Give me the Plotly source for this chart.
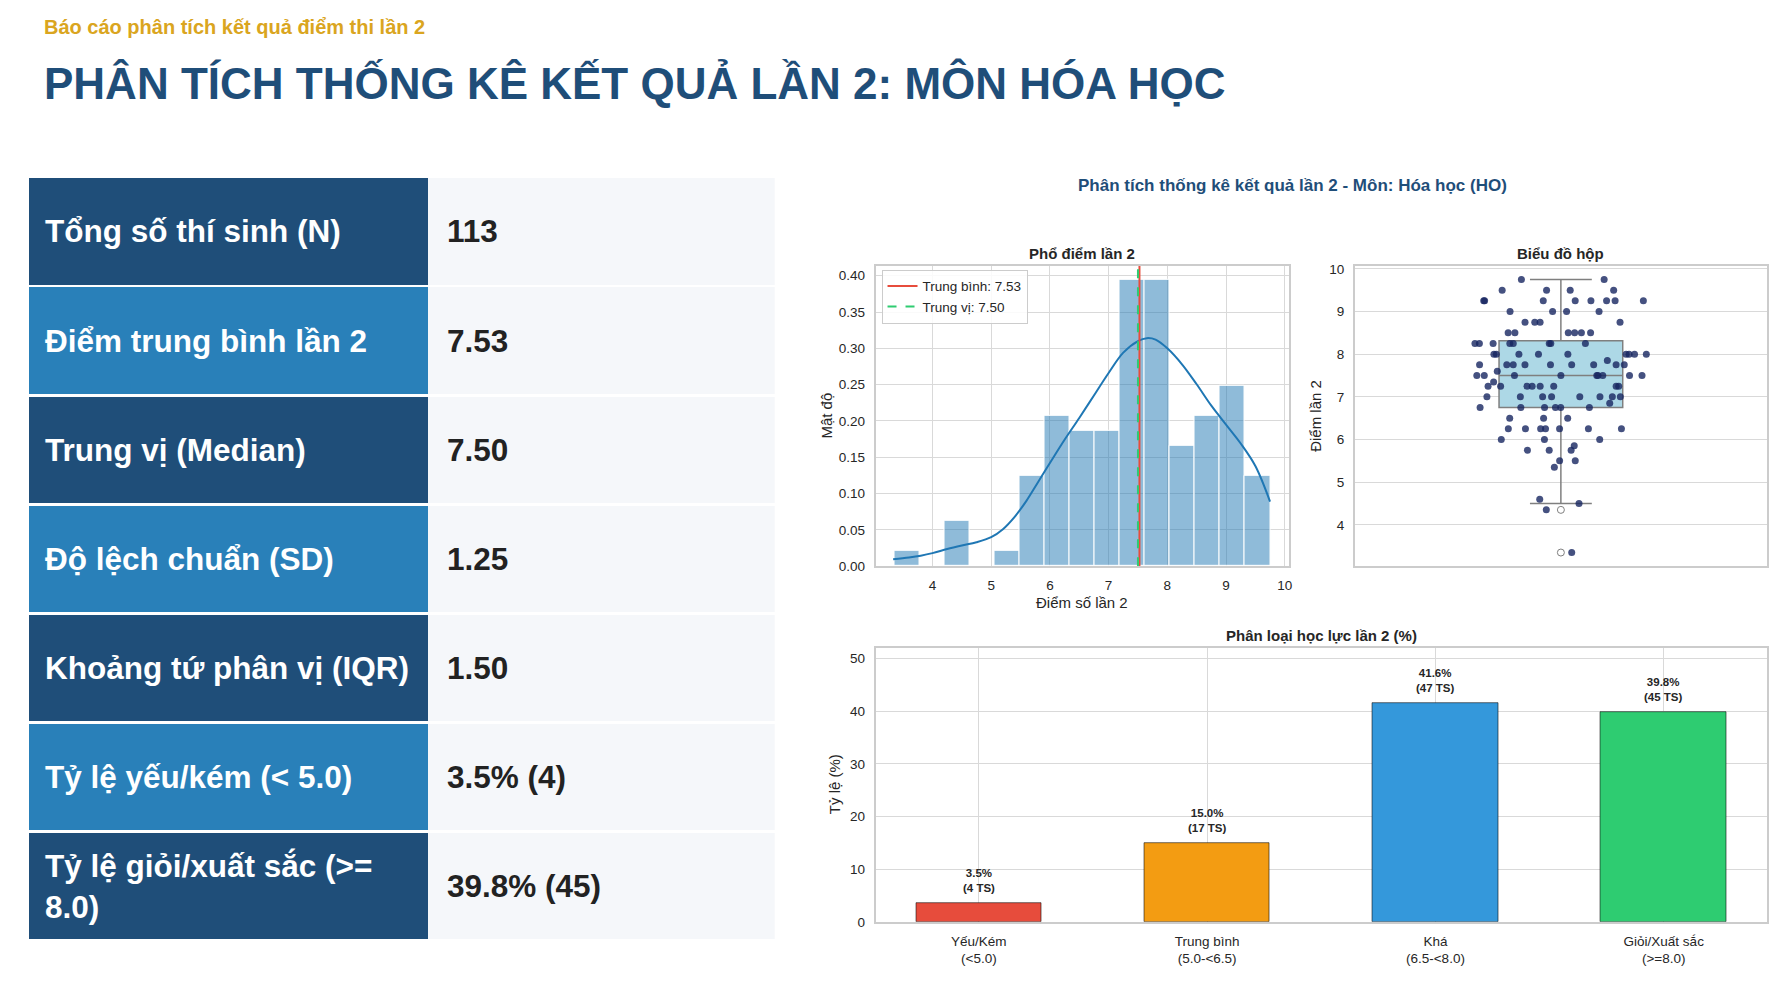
import numpy as np
import plotly.graph_objects as go

W, H = 1790, 1002
FONT = "Liberation Sans, Arial, Helvetica, sans-serif"
NAVY = "#1f4e79"
TEXT = "#262626"

# --- bảng thống kê ---
stat_labels = [
    "Tổng số thí sinh (N)",
    "Điểm trung bình lần 2",
    "Trung vị (Median)",
    "Độ lệch chuẩn (SD)",
    "Khoảng tứ phân vị (IQR)",
    "Tỷ lệ yếu/kém (< 5.0)",
    "Tỷ lệ giỏi/xuất sắc (>=<br>8.0)",
]
stat_values = ["113", "7.53", "7.50", "1.25", "1.50", "3.5% (4)", "39.8% (45)"]

# --- điểm lần 2 (đọc từ biểu đồ hộp) ---
score_levels = [3.35, 4.35, 4.5, 4.6, 5.35, 5.5, 5.75, 5.85, 6.0, 6.25,
                6.5, 6.75, 6.85, 7.0, 7.25, 7.35, 7.5, 7.6, 7.75, 7.85,
                8.0, 8.25, 8.5, 8.75, 9.0, 9.25, 9.5, 9.75]
level_counts = [1, 1, 1, 1, 1, 2, 3, 1, 3, 7,
                3, 6, 1, 8, 8, 1, 9, 1, 9, 1,
                9, 8, 6, 4, 4, 8, 4, 2]
scores = np.repeat(score_levels, level_counts)

# đường KDE
kde_x = [3.33, 3.6, 3.8, 4.0, 4.25, 4.5, 4.75, 5.0, 5.2, 5.4, 5.6, 5.8, 6.0,
         6.25, 6.5, 6.75, 7.0, 7.25, 7.5, 7.65, 7.8, 8.0, 8.25, 8.5, 8.75,
         9.0, 9.25, 9.5, 9.75]
kde_y = [0.0095, 0.012, 0.0145, 0.018, 0.0236, 0.0285, 0.033, 0.040, 0.051,
         0.068, 0.090, 0.116, 0.142, 0.174, 0.204, 0.235, 0.266, 0.294, 0.310,
         0.314, 0.312, 0.300, 0.278, 0.2505, 0.221, 0.195, 0.169, 0.138, 0.089]

# --- phân loại học lực ---
grade_labels = ["Yếu/Kém<br>(<5.0)", "Trung bình<br>(5.0-<6.5)",
                "Khá<br>(6.5-<8.0)", "Giỏi/Xuất sắc<br>(>=8.0)"]
grade_pct = [3.5, 15.0, 41.6, 39.8]
grade_count = [4, 17, 47, 45]
grade_colors = ["#e74c3c", "#f39c12", "#3498db", "#2ecc71"]

mean_score = float(np.mean(scores))
median_score = float(np.median(scores))

HIST_TOP = 0.4136


# vị trí theo pixel của trang -> toạ độ paper
def px_x(v):
    return v / W


def px_y(v):
    return 1 - v / H


fig = go.Figure()

# ---------- bảng bên trái (ô vẽ bằng thanh ngang) ----------
LABEL_W, TABLE_W = 400, 747
rows = list(range(len(stat_labels)))
label_fill = [NAVY if i % 2 == 0 else "#2980b9" for i in rows]
fig.add_trace(go.Bar(
    y=rows, x=[LABEL_W] * len(rows), base=0, orientation="h", width=0.975,
    marker=dict(color=label_fill, line=dict(width=0)),
    xaxis="x4", yaxis="y4", hoverinfo="skip", showlegend=False))
fig.add_trace(go.Bar(
    y=rows, x=[TABLE_W - LABEL_W] * len(rows), base=LABEL_W, orientation="h",
    width=0.975, marker=dict(color="#f5f7fa", line=dict(width=0)),
    xaxis="x4", yaxis="y4", hoverinfo="skip", showlegend=False))

# ---------- histogram ----------
fig.add_trace(go.Histogram(
    x=scores, histnorm="probability density",
    xbins=dict(start=3.35, end=9.75, size=0.42667),
    marker=dict(color="rgba(31,119,180,0.5)", line=dict(color="white", width=1)),
    xaxis="x", yaxis="y", showlegend=False))
fig.add_trace(go.Scatter(
    x=kde_x, y=kde_y, mode="lines", line=dict(color="#1f77b4", width=2, shape="spline"),
    xaxis="x", yaxis="y", showlegend=False))
fig.add_trace(go.Scatter(
    x=[mean_score, mean_score], y=[0, HIST_TOP], mode="lines",
    line=dict(color="#e74c3c", width=2), name=f"Trung bình: {mean_score:.2f}",
    xaxis="x", yaxis="y"))
fig.add_trace(go.Scatter(
    x=[median_score, median_score], y=[0, HIST_TOP], mode="lines",
    line=dict(color="#2ecc71", width=2, dash="dash"), name=f"Trung vị: {median_score:.2f}",
    xaxis="x", yaxis="y"))

# ---------- biểu đồ hộp ----------
fig.add_trace(go.Box(
    y=scores, x0=0, width=0.3, whiskerwidth=0.5, boxpoints="outliers",
    fillcolor="#add8e6", line=dict(color="#7f7f7f", width=1.5),
    marker=dict(symbol="circle-open", color="#7f7f7f", size=7),
    xaxis="x2", yaxis="y2", showlegend=False))
fig.add_trace(go.Box(
    y=scores, x0=0, width=0.42, boxpoints="all", jitter=1, pointpos=0,
    fillcolor="rgba(0,0,0,0)", line=dict(width=0),
    marker=dict(color="#172660", opacity=0.8, size=7),
    xaxis="x2", yaxis="y2", showlegend=False))

# ---------- phân loại ----------
fig.add_trace(go.Bar(
    x=grade_labels, y=grade_pct, width=0.55,
    marker=dict(color=grade_colors, line=dict(color="rgba(0,0,0,0.55)", width=1)),
    xaxis="x3", yaxis="y3", showlegend=False))

axis_style = dict(
    showline=True, mirror=True, linecolor="#cccccc", linewidth=1.5,
    showgrid=True, gridcolor="#d9d9d9", gridwidth=1, zeroline=False,
    ticks="", tickfont=dict(size=13.5, color=TEXT, family=FONT),
    ticklabelstandoff=6,
)

HIST_X = [px_x(877), px_x(1291)]
BOX_X = [px_x(1357), px_x(1770)]
TOP_Y = [px_y(569), px_y(265)]
BAR_X = [px_x(877), px_x(1770)]
BAR_Y = [px_y(929), px_y(652)]

fig.update_layout(
    xaxis=dict(axis_style, domain=HIST_X, anchor="y", range=[3.03, 10.07],
               tickvals=[4, 5, 6, 7, 8, 9, 10]),
    yaxis=dict(axis_style, domain=TOP_Y, anchor="x", range=[0, HIST_TOP],
               dtick=0.05, tickformat=".2f"),
    xaxis2=dict(axis_style, domain=BOX_X, anchor="y2", range=[-0.5, 0.5],
                showgrid=False, showticklabels=False),
    yaxis2=dict(axis_style, domain=TOP_Y, anchor="x2", range=[3.03, 10.07],
                tickvals=[4, 5, 6, 7, 8, 9, 10]),
    xaxis3=dict(axis_style, domain=BAR_X, anchor="y3", range=[-0.4525, 3.4525],
                type="category"),
    yaxis3=dict(axis_style, domain=BAR_Y, anchor="x3", range=[0, 52], dtick=10),
    xaxis4=dict(domain=[px_x(29), px_x(776)], anchor="y4", range=[0, TABLE_W],
                visible=False, fixedrange=True),
    yaxis4=dict(domain=[px_y(948), px_y(175)], anchor="x4", range=[6.5, -0.5],
                visible=False, fixedrange=True),
)

ann = []
ann.append(dict(text="<b>Báo cáo phân tích kết quả điểm thi lần 2</b>", x=px_x(42), y=px_y(23),
                xanchor="left", yanchor="middle", font=dict(size=20, color="#daa520")))
ann.append(dict(text="<b>PHÂN TÍCH THỐNG KÊ KẾT QUẢ LẦN 2: MÔN HÓA HỌC</b>", x=px_x(42), y=px_y(80),
                xanchor="left", yanchor="middle", font=dict(size=44, color=NAVY)))
ann.append(dict(text="<b>Phân tích thống kê kết quả lần 2 - Môn: Hóa học (HO)</b>",
                x=px_x(1295), y=px_y(184), xanchor="center", yanchor="middle",
                font=dict(size=17, color=NAVY)))
for txt, cx, cy in [("Phổ điểm lần 2", 1084, 253), ("Biểu đồ hộp", 1563.5, 253),
                    ("Phân loại học lực lần 2 (%)", 1323.5, 639)]:
    ann.append(dict(text=f"<b>{txt}</b>", x=px_x(cx), y=px_y(cy), xanchor="center",
                    yanchor="middle", font=dict(size=15, color=TEXT)))
for txt, cx, cy, ang in [("Mật độ", 827, 417, -90), ("Điểm số lần 2", 1084, 606, 0),
                         ("Điểm lần 2", 1317, 417, -90), ("Tỷ lệ (%)", 836, 790, -90)]:
    ann.append(dict(text=txt, x=px_x(cx), y=px_y(cy), xanchor="center", yanchor="middle",
                    textangle=ang, font=dict(size=15, color=TEXT)))
for lbl, p, c in zip(grade_labels, grade_pct, grade_count):
    ann.append(dict(text=f"<b>{p:.1f}%<br>({c} TS)</b>", x=lbl, y=p, xref="x3", yref="y3",
                    xanchor="center", yanchor="bottom", yshift=7,
                    font=dict(size=11.5, color=TEXT)))
for i, (lbl, val) in enumerate(zip(stat_labels, stat_values)):
    ann.append(dict(text=f"<b>{lbl}</b>", x=14, y=i, xref="x4", yref="y4",
                    xanchor="left", yanchor="middle", align="left",
                    font=dict(size=31.5, color="white")))
    ann.append(dict(text=f"<b>{val}</b>", x=LABEL_W + 17, y=i, xref="x4", yref="y4",
                    xanchor="left", yanchor="middle", align="left",
                    font=dict(size=31.5, color="#222222")))
for a in ann:
    a.setdefault("xref", "paper")
    a.setdefault("yref", "paper")
    a["showarrow"] = False

fig.update_layout(
    width=W, height=H, autosize=False,
    margin=dict(l=0, r=0, t=0, b=0),
    paper_bgcolor="white", plot_bgcolor="white",
    font=dict(family=FONT, color=TEXT),
    annotations=ann,
    bargap=0, barmode="overlay",
    showlegend=True,
    legend=dict(x=px_x(883), y=px_y(269), xanchor="left", yanchor="top",
                bgcolor="rgba(255,255,255,0.85)", bordercolor="#cccccc", borderwidth=1,
                font=dict(size=13.5, color=TEXT), tracegroupgap=0),
)

# trang vừa khít cửa sổ: bỏ lề mặc định của body
fig.write_html(
    "out.html",
    config={"displayModeBar": False},
    post_script="document.body.style.margin='0';"
                "document.documentElement.style.overflow='hidden';",
)
